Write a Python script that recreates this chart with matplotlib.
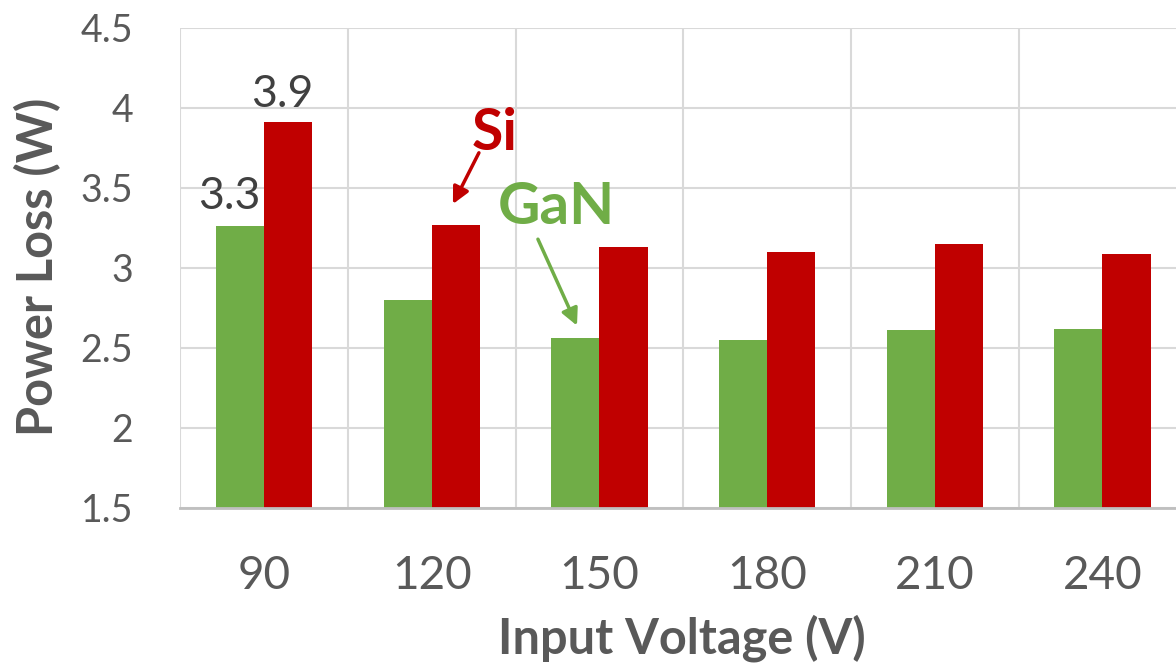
import numpy as np
import matplotlib.pyplot as plt

plt.rcParams["font.family"] = ["Lato", "DejaVu Sans"]

# data
voltages = ["90", "120", "150", "180", "210", "240"]
gan_loss = [3.26, 2.80, 2.56, 2.55, 2.61, 2.62]
si_loss = [3.91, 3.27, 3.13, 3.10, 3.15, 3.09]

green = "#70AD47"
red = "#C00000"
grid_col = "#D9D9D9"
tick_col = "#595959"

W, H = 1176, 665
fig = plt.figure(figsize=(W / 100, H / 100), dpi=100)
# plot area runs slightly past the right edge, like the source image
ax = fig.add_axes([180.3 / W, 1 - 508 / H, 1006 / W, 480 / H])

x = np.arange(len(voltages))
bw = 0.2865
ax.bar(x - bw / 2, gan_loss, bw, color=green, zorder=3)
ax.bar(x + bw / 2, si_loss, bw, color=red, zorder=3)

ax.set_ylim(1.5, 4.5)
ax.set_xlim(-0.5, len(voltages) - 0.5)
ax.set_yticks(np.arange(1.5, 4.51, 0.5))
ax.set_yticklabels(["1.5", "2", "2.5", "3", "3.5", "4", "4.5"])
ax.set_xticks(x)
ax.set_xticklabels(voltages)
ax.set_xticks(np.arange(-0.5, len(voltages), 1), minor=True)

ax.grid(axis="y", which="major", color=grid_col, lw=1.5, zorder=0)
ax.grid(axis="x", which="minor", color=grid_col, lw=1.5, zorder=0)
ax.tick_params(axis="both", which="both", length=0)
ax.tick_params(axis="y", labelsize=27, colors=tick_col, pad=34)
ax.tick_params(axis="x", labelsize=33, colors=tick_col, pad=34)
for s in ["top", "right", "left"]:
    ax.spines[s].set_visible(False)
ax.spines["bottom"].set_color("#BFBFBF")
ax.spines["bottom"].set_linewidth(2)
ax.spines["bottom"].set_zorder(4)

# value labels on the first group only
ax.annotate(f"{gan_loss[0]:.1f}", (x[0] - bw / 2, gan_loss[0]), xytext=(-8, 7),
            textcoords="offset points", ha="center", va="bottom",
            fontsize=32, color="#404040")
ax.annotate(f"{si_loss[0]:.1f}", (x[0] + bw / 2, si_loss[0]), xytext=(-4, 5),
            textcoords="offset points", ha="center", va="bottom",
            fontsize=32, color="#404040")

# series call-outs
ax.text(1.377, 3.84, "Si", color=red, fontsize=41, fontweight="bold",
        ha="center", va="center")
ax.annotate("", xy=(1.126, 3.40), xytext=(1.281, 3.72),
            arrowprops=dict(arrowstyle="-|>", color=red, lw=2.5,
                            mutation_scale=25, shrinkA=0, shrinkB=0))
ax.text(1.742, 3.38, "GaN", color=green, fontsize=42, fontweight="bold",
        ha="center", va="center")
ax.annotate("", xy=(1.866, 2.64), xytext=(1.633, 3.18),
            arrowprops=dict(arrowstyle="-|>", color=green, lw=2.5,
                            mutation_scale=25, shrinkA=0, shrinkB=0))

fig.text(38 / W, 1 - 267 / H, "Power Loss (W)", rotation=90, fontsize=35,
         fontweight="bold", color=tick_col, ha="center", va="center")
fig.text(682 / W, 1 - 638 / H, "Input Voltage (V)", fontsize=35,
         fontweight="bold", color=tick_col, ha="center", va="center")

fig.savefig("out.png", dpi=100)
